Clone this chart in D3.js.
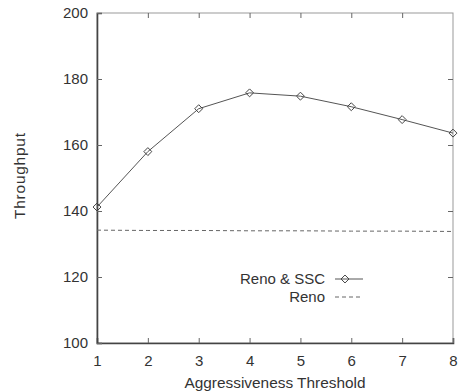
<!DOCTYPE html>
<meta charset="utf-8">
<style>
  body { margin: 0; background: #fff; }
  text { font-family: "Liberation Sans", Arial, sans-serif; fill: #333; }
</style>
<svg width="460" height="392"></svg>
<script src="https://d3js.org/d3.v7.min.js"></script>
<script>

var thresholds = [1, 2, 3, 4, 5, 6, 7, 8];
var renoSSC = [141.2, 158, 171, 175.8, 174.8, 171.6, 167.7, 163.6];
var reno = [134.2, 134.1, 134.1, 134.0, 134.0, 133.9, 133.9, 133.8];
var yTicks = [100, 120, 140, 160, 180, 200];
var seriesNames = ["Reno & SSC", "Reno"];

var svg = d3.select("svg");
var x = d3.scaleLinear().domain([1, 8]).range([97, 453]);
var y = d3.scaleLinear().domain([100, 200]).range([343, 13]);

// frame
svg.append("rect")
    .attr("x", 97).attr("y", 13)
    .attr("width", 356).attr("height", 330)
    .attr("fill", "none").attr("stroke", "#999").attr("stroke-width", 1);

// bottom / left axes, ticks pointing inward
var xAxis = svg.append("g")
    .attr("transform", "translate(0,343)")
    .call(d3.axisBottom(x).tickValues(thresholds).tickSize(-5).tickPadding(12).tickFormat(d3.format("d")));
var yAxis = svg.append("g")
    .attr("transform", "translate(97,0)")
    .call(d3.axisLeft(y).tickValues(yTicks).tickSize(-5).tickPadding(9));
[xAxis, yAxis].forEach(function(g) {
  g.select(".domain").attr("stroke", "#444").attr("stroke-width", 1.6);
  g.selectAll(".tick line").attr("stroke", "#666");
  g.selectAll(".tick text").style("font-size", "15px").attr("fill", "#333");
});

// top / right mirror ticks
svg.append("g")
    .attr("transform", "translate(0,13)")
    .call(d3.axisTop(x).tickValues(thresholds.slice(1, -1)).tickSize(-5).tickFormat(""))
    .call(function(g) { g.select(".domain").remove(); g.selectAll("line").attr("stroke", "#666"); });
svg.append("g")
    .attr("transform", "translate(453,0)")
    .call(d3.axisRight(y).tickValues(yTicks.slice(1, -1)).tickSize(-5).tickFormat(""))
    .call(function(g) { g.select(".domain").remove(); g.selectAll("line").attr("stroke", "#666"); });

var line = d3.line()
    .x(function(d, i) { return x(thresholds[i]); })
    .y(function(d) { return y(d); });

svg.append("path")
    .datum(renoSSC)
    .attr("d", line)
    .attr("fill", "none").attr("stroke", "#555").attr("stroke-width", 1);

svg.append("path")
    .datum(reno)
    .attr("d", line)
    .attr("fill", "none").attr("stroke", "#666").attr("stroke-width", 1)
    .attr("stroke-dasharray", "4,3");

function marker(g, cx, cy) {
  g.append("path")
      .attr("d", d3.symbol(d3.symbolDiamond2, 40)())
      .attr("transform", "translate(" + cx + "," + cy + ")")
      .attr("fill", "none").attr("stroke", "#444").attr("stroke-width", 1);
}

var markers = svg.append("g");
renoSSC.forEach(function(d, i) { marker(markers, x(thresholds[i]), y(d)); });

// legend
var legend = svg.append("g");
legend.append("text").attr("x", 325).attr("y", 284).attr("text-anchor", "end")
    .style("font-size", "15px").text(seriesNames[0]);
legend.append("line").attr("x1", 335).attr("x2", 363).attr("y1", 279).attr("y2", 279)
    .attr("stroke", "#555");
marker(legend, 345, 279);
legend.append("text").attr("x", 325).attr("y", 302).attr("text-anchor", "end")
    .style("font-size", "15px").text(seriesNames[1]);
legend.append("line").attr("x1", 335).attr("x2", 363).attr("y1", 297).attr("y2", 297)
    .attr("stroke", "#666").attr("stroke-dasharray", "4,3");

// axis titles
svg.append("text")
    .attr("x", 275).attr("y", 388).attr("text-anchor", "middle")
    .style("font-size", "15.4px").text("Aggressiveness Threshold");
svg.append("text")
    .attr("transform", "translate(25,176) rotate(-90)")
    .attr("text-anchor", "middle")
    .attr("textLength", 86).attr("lengthAdjust", "spacing")
    .style("font-size", "15.4px").text("Throughput");

</script>
